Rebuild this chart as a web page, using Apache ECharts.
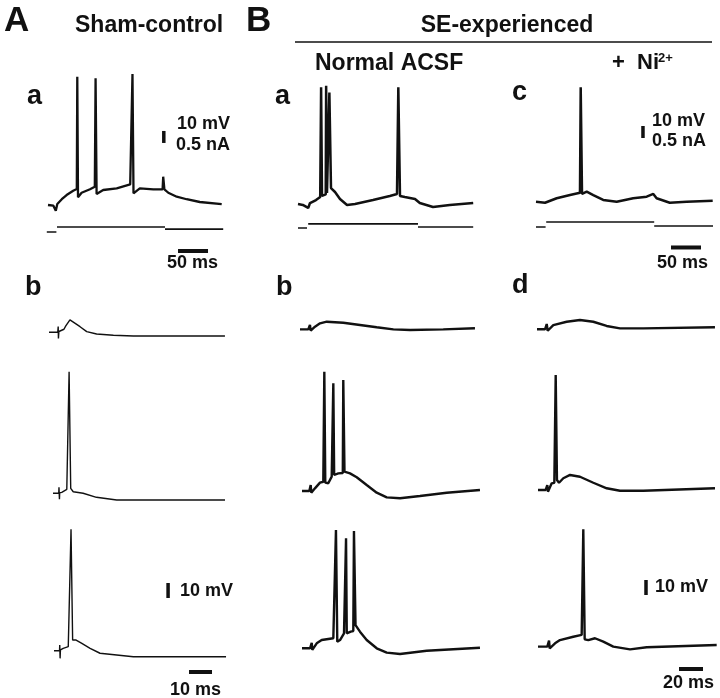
<!DOCTYPE html>
<html>
<head>
<meta charset="utf-8">
<script src="https://cdn.jsdelivr.net/npm/echarts@6/dist/echarts.min.js"></script>
<style>
  html, body { margin: 0; background: #fff; }
  #chart { width: 720px; height: 698px; }
</style>
</head>
<body>
<div id="chart"></div>
<script>
// voltage traces: [time (ms), membrane potential (mV)]
const shamStep = [[0,-65],[9,-65.6],[13,-69.8],[15.5,-64.2],[23,-60.2],[31,-56.7],[42,-53.1],[48,-51.7],[48.8,41.9],[50,-58.6],[56,-54.8],[70,-51.9],[78,-49.8],[79.3,40.6],[81,-55.8],[92,-52.5],[114.5,-51.1],[137,-47.8],[140.8,44.2],[142.5,-55.3],[153,-51.1],[175.5,-51.9],[191,-51.9],[192,-41.4],[194,-51.9],[200.5,-54.8],[214.5,-58.1],[231,-60.2],[253,-62.5],[289.5,-64.2]];
const seStep = [[0,-65],[8,-65.8],[17,-68.3],[20,-64.2],[30,-61.7],[37,-59.2],[38.5,32.3],[40,-58.3],[46.2,-57],[46.9,33.6],[48.3,-55.8],[51.5,-55],[52.3,27.8],[55,-51.7],[61.7,-55],[70,-60.8],[81.7,-65.8],[95,-65],[125,-61.7],[153,-58.3],[165,-56.7],[167.2,32.3],[170,-58.3],[178,-59.2],[195,-60.8],[198,-60],[203,-64.2],[225,-67.5],[253,-65.8],[292,-64.2]];
const niStep = [[0,-64.8],[15,-65.6],[34.5,-61.9],[56.7,-59.2],[73.3,-57.3],[74.5,30.6],[76.7,-58.3],[84.5,-56.4],[95.5,-59.2],[112,-63.3],[134.5,-64.8],[162,-61.9],[184.5,-60.6],[195.5,-58.3],[201,-61.9],[223,-65.6],[251,-64.8],[294.5,-63.9]];

// injected current segments: [time (ms), current (nA)]
const shamCurrent = [[[-2,0],[14,0]], [[15,0.21],[195,0.21]], [[195,0.12],[292,0.12]]];
const seCurrent = [[[0,0],[15,0]], [[17,0.17],[200,0.17]], [[200,0.04],[292,0.04]]];
const niCurrent = [[[0,0],[16,0]], [[17,0.21],[197,0.21]], [[197,0.04],[295,0.04]]];

// synaptic responses (stimulus intensity low / mid / high)
const shamLow = [[0,-62.5],[3.8,-62.5],[4,-58.7],[4.1,-66.7],[4.3,-62],[6.5,-60.5],[7.3,-58.3],[7.7,-59],[9.1,-54.3],[10.9,-56.1],[13.5,-58.8],[16.4,-62.1],[20.7,-63.7],[28,-64.5],[36.7,-65],[76.5,-65]];
const shamMid = [[0,-60.5],[2.5,-60.5],[2.6,-56.5],[2.8,-64.5],[2.9,-60.3],[3.8,-59.9],[6,-57.9],[6.5,-57.2],[7,20.5],[7.7,-57.2],[8.8,-59.5],[13.1,-60.5],[18.9,-63.2],[27.7,-65],[74.8,-65]];
const shamHigh = [[0,-60.8],[2.4,-60.8],[2.5,-57],[2.65,-65.9],[2.8,-60.3],[4,-59.2],[6.2,-58.1],[6.8,-57],[7.4,20.1],[8.1,-53.7],[9.6,-53.7],[12.1,-55.9],[15.7,-59.2],[20,-62.5],[34.5,-64.8],[74.8,-64.8]];

const seLow = [[0,-65.9],[6.9,-65.9],[8.3,-63],[8.9,-66.8],[12.5,-64.1],[16.7,-61.9],[22.3,-60.8],[36.1,-61.5],[50,-63],[63.9,-64.5],[77.8,-65.9],[91.7,-66.3],[119.4,-65.9],[145.8,-65.2]];
const seMid = [[0,-65.7],[6.1,-65.7],[7.25,-61.7],[7.75,-66.8],[10.8,-63.9],[15,-60.1],[17.75,-59.5],[18.2,-59.3],[18.6,13.9],[19.4,-60.1],[21.9,-60.5],[24.75,-56.1],[25.7,-55.7],[26.1,6.1],[26.8,-55],[30.25,-53.9],[34,-53.7],[34.4,8.3],[35.4,-52.8],[40,-53.9],[45.6,-56.5],[53.9,-61.7],[62.25,-66.8],[70.6,-69.9],[81.7,-70.5],[98.3,-69],[120.6,-66.8],[148.3,-65]];
const seHigh = [[0,-65.2],[6.7,-65.2],[8.1,-61.5],[8.6,-66.3],[12.25,-61.9],[16.4,-59.7],[26.1,-58.5],[27.75,-58.3],[28.3,13.7],[29.4,-60.8],[31.7,-59.7],[35,-55.2],[36.25,-55],[36.7,8.1],[37.3,-55.2],[40.6,-54.1],[42.75,-53.7],[43.3,13],[44.6,-49.7],[48.3,-54.1],[53.9,-59.7],[62.25,-65.2],[70.6,-68.1],[81.7,-69],[103.9,-66.8],[148.3,-64.8]];

const niLow = [[0,-66.5],[6.7,-66.5],[8.1,-63],[8.9,-67.5],[13.6,-63.7],[24.75,-61.5],[35.8,-60.3],[46.9,-61.5],[58,-64.3],[69.2,-65.9],[88.6,-65.9],[148.3,-65.2]];
const niMid = [[0,-66.3],[6.4,-66.3],[7.75,-63],[8.3,-67.5],[11.4,-61.9],[13.6,-61.5],[14.2,-60.8],[14.75,10.3],[15.8,-59.7],[17.5,-61.5],[21.1,-58.5],[26.7,-56.3],[35,-57.5],[46.1,-61.5],[57.25,-65.2],[68.3,-66.8],[87.75,-66.8],[147.5,-65.2]];
const niHigh = [[0,-66.1],[7.75,-66.1],[9.2,-62.1],[9.75,-67.2],[14.2,-63.9],[18.3,-61.7],[29.4,-59.5],[36.4,-58.3],[37.25,-57.7],[37.75,12.1],[38.9,-61.2],[41.9,-61.7],[47.5,-60.5],[54.4,-62.8],[62.75,-66.1],[76.7,-67.9],[90.6,-66.5],[148.9,-65]];

// calibration bars
const barMv = 10;
const barMsStep = 50;
const barMsSham = 10;
const barMsSe = 20;

const ink = '#111';

// pixel placement of each trace: x0/y0 = where (0 ms, ref) sits, scales in px per unit
const panels = [
  {data: [shamStep], x0: 48, y0: 205, ref: -65, pxX: 0.6, pxY: 1.2, w: 2.3},
  {data: shamCurrent, x0: 48, y0: 232, ref: 0, pxX: 0.6, pxY: 24, w: 1.6},
  {data: [seStep], x0: 298, y0: 204, ref: -65, pxX: 0.6, pxY: 1.2, w: 2.5},
  {data: seCurrent, x0: 298, y0: 228, ref: 0, pxX: 0.6, pxY: 24, w: 1.6},
  {data: [niStep], x0: 536, y0: 202, ref: -65, pxX: 0.6, pxY: 1.2, w: 2.5},
  {data: niCurrent, x0: 536, y0: 227, ref: 0, pxX: 0.6, pxY: 24, w: 1.6},
  {data: [shamLow], x0: 49, y0: 336, ref: -65, pxX: 2.3, pxY: 1.5, w: 1.4},
  {data: [shamMid], x0: 53, y0: 500, ref: -65, pxX: 2.3, pxY: 1.5, w: 1.4},
  {data: [shamHigh], x0: 54, y0: 657, ref: -65, pxX: 2.3, pxY: 1.5, w: 1.4},
  {data: [seLow], x0: 300, y0: 328, ref: -65, pxX: 1.2, pxY: 1.5, w: 2.4},
  {data: [seMid], x0: 302, y0: 490, ref: -65, pxX: 1.2, pxY: 1.5, w: 2.4},
  {data: [seHigh], x0: 302, y0: 648, ref: -65, pxX: 1.2, pxY: 1.5, w: 2.4},
  {data: [niLow], x0: 537, y0: 327, ref: -65, pxX: 1.2, pxY: 1.5, w: 2.4},
  {data: [niMid], x0: 538, y0: 488, ref: -65, pxX: 1.2, pxY: 1.5, w: 2.4},
  {data: [niHigh], x0: 538, y0: 645, ref: -65, pxX: 1.2, pxY: 1.5, w: 2.4}
];

// calibration bars, anchored in the data units of a panel
const bars = [
  {panel: 0, t: 193, v: -13.3, dv: barMv},
  {panel: 0, t: 216.7, v: -103.3, dt: barMsStep},
  {panel: 4, t: 178.3, v: -11.7, dv: barMv},
  {panel: 4, t: 225, v: -102.9, dt: barMsStep},
  {panel: 8, t: 49.6, v: -25.7, dv: barMv},
  {panel: 8, t: 58.7, v: -75, dt: barMsSham},
  {panel: 14, t: 90, v: -31.7, dv: barMv},
  {panel: 14, t: 117.5, v: -81, dt: barMsSe}
];

const grid = [], xAxis = [], yAxis = [], series = [];

panels.forEach((p, i) => {
  const pts = p.data.flat();
  const ts = pts.map(d => d[0]), vs = pts.map(d => d[1]);
  const xMin = Math.min(...ts) - 2, xMax = Math.max(...ts) + 2;
  const yMin = Math.min(...vs) - 2, yMax = Math.max(...vs) + 2;
  grid.push({
    left: p.x0 + xMin * p.pxX,
    top: p.y0 - (yMax - p.ref) * p.pxY,
    width: (xMax - xMin) * p.pxX,
    height: (yMax - yMin) * p.pxY
  });
  xAxis.push({type: 'value', gridIndex: i, min: xMin, max: xMax, show: false});
  yAxis.push({type: 'value', gridIndex: i, min: yMin, max: yMax, show: false});
  p.data.forEach(seg => {
    series.push({
      type: 'line', xAxisIndex: i, yAxisIndex: i, data: seg,
      symbol: 'none', clip: false, silent: true,
      lineStyle: {color: ink, width: p.w}
    });
  });
});

bars.forEach(b => {
  const vertical = b.dv !== undefined;
  series.push({
    type: 'line', xAxisIndex: b.panel, yAxisIndex: b.panel,
    data: vertical ? [[b.t, b.v], [b.t, b.v + b.dv]] : [[b.t, b.v], [b.t + b.dt, b.v]],
    symbol: 'none', clip: false, silent: true,
    lineStyle: {color: ink, width: vertical ? 3.5 : 4, cap: 'butt'}
  });
});

const F = '"Liberation Sans", Arial, sans-serif';
function label(text, x, y, size, align) {
  return {
    type: 'text', x: x, y: y, silent: true,
    style: {text: text, font: 'bold ' + size + 'px ' + F, fill: ink,
      align: align || 'left', textAlign: align || 'left',
      verticalAlign: 'middle', textVerticalAlign: 'middle'}
  };
}

const graphic = [
  label('A', 4, 21, 35),
  label('B', 246, 21, 35),
  label('Sham-control', 75, 26, 23),
  label('SE-experienced', 507, 26, 23, 'center'),
  {type: 'line', silent: true, shape: {x1: 295, y1: 42, x2: 712, y2: 42}, style: {stroke: ink, lineWidth: 1.6}},
  label('Normal ACSF', 315, 64, 23),
  label('+  Ni', 612, 63, 22),
  label('2+', 658, 58, 13),
  label('a', 27, 97, 27),
  label('a', 275, 97, 27),
  label('c', 512, 93, 27),
  label('b', 25, 288, 27),
  label('b', 276, 288, 27),
  label('d', 512, 286, 27),
  label('10 mV', 177, 124, 18),
  label('0.5 nA', 176, 145, 18),
  label('50 ms', 167, 263, 18),
  label('10 mV', 652, 121, 18),
  label('0.5 nA', 652, 141, 18),
  label('50 ms', 657, 263, 18),
  label('10 mV', 180, 591, 18),
  label('10 ms', 170, 690, 18),
  label('10 mV', 655, 587, 18),
  label('20 ms', 663, 683, 18)
];

const chart = echarts.init(document.getElementById('chart'));
chart.setOption({
  backgroundColor: '#fff',
  animation: false,
  grid: grid,
  xAxis: xAxis,
  yAxis: yAxis,
  series: series,
  graphic: graphic
});
</script>
</body>
</html>
